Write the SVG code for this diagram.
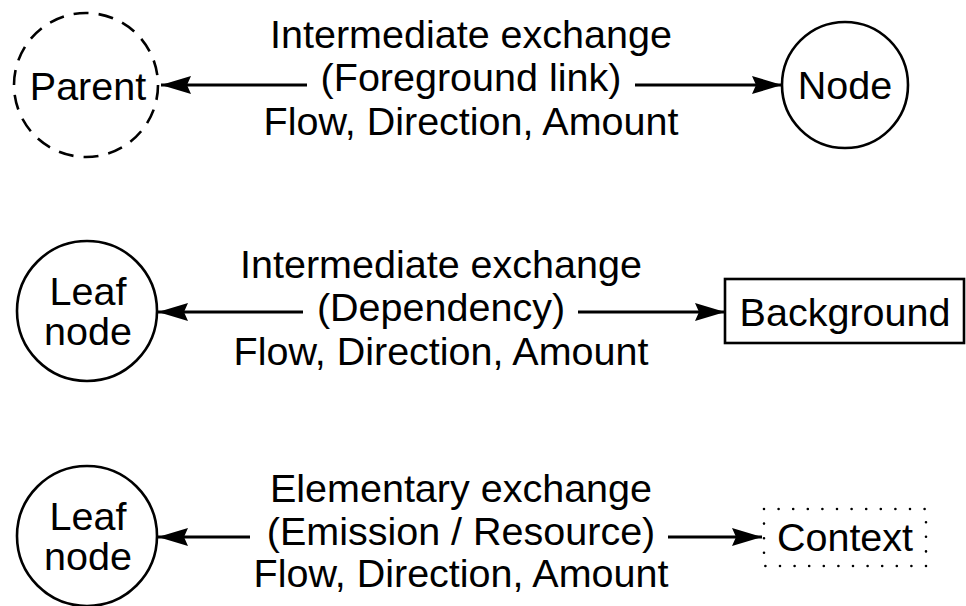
<svg xmlns="http://www.w3.org/2000/svg" width="966" height="606" viewBox="0 0 966 606">
<style>
text{font-family:"Liberation Sans",Arial,sans-serif;font-size:39.5px;fill:#000;text-anchor:middle}
.shape{fill:none;stroke:#000;stroke-width:2.6}
.conn{stroke:#000;stroke-width:3;fill:none}
</style>
<defs>
<marker id="ah" viewBox="0 0 30 18" refX="30" refY="9" markerWidth="30" markerHeight="18" markerUnits="userSpaceOnUse" orient="auto-start-reverse">
<path d="M0,0 L30,9 L0,18 L4,9 Z" fill="#000"/>
</marker>
</defs>
<rect width="966" height="606" fill="#fff"/>
<g id="parent">
<circle class="shape" cx="86" cy="85" r="72" stroke-dasharray="15 10.1"/>
<text x="88" y="100">Parent</text>
</g>
<g id="node">
<circle class="shape" cx="845" cy="85" r="63"/>
<text x="845" y="99">Node</text>
</g>
<g id="leaf1">
<circle class="shape" cx="87" cy="311" r="70"/>
<text x="88" y="305">Leaf</text>
<text x="88" y="345">node</text>
</g>
<g id="background">
<rect class="shape" x="725" y="279" width="239" height="64" stroke-width="3"/>
<text x="845" y="326">Background</text>
</g>
<g id="leaf2">
<circle class="shape" cx="87" cy="536" r="70"/>
<text x="88" y="530">Leaf</text>
<text x="88" y="570">node</text>
</g>
<g id="context">
<rect x="764" y="509" width="162" height="57" fill="none" stroke="#000" stroke-width="2.6" stroke-linecap="round" stroke-dasharray="0 14.6"/>
<text x="845" y="551">Context</text>
</g>
<g id="connectors">
<line class="conn" x1="307" y1="85" x2="161" y2="85" marker-end="url(#ah)"/>
<line class="conn" x1="635" y1="85" x2="782" y2="85" marker-end="url(#ah)"/>
<line class="conn" x1="303" y1="312" x2="158" y2="312" marker-end="url(#ah)"/>
<line class="conn" x1="578" y1="312" x2="725" y2="312" marker-end="url(#ah)"/>
<line class="conn" x1="250" y1="537" x2="158" y2="537" marker-end="url(#ah)"/>
<line class="conn" x1="668" y1="537" x2="762" y2="537" marker-end="url(#ah)"/>
</g>
<g id="labels">
<text x="471" y="48">Intermediate exchange</text>
<text x="471" y="91">(Foreground link)</text>
<text x="471" y="135">Flow, Direction, Amount</text>
<text x="441" y="278">Intermediate exchange</text>
<text x="441" y="321">(Dependency)</text>
<text x="441" y="365">Flow, Direction, Amount</text>
<text x="461" y="502">Elementary exchange</text>
<text x="461" y="545">(Emission / Resource)</text>
<text x="461" y="587">Flow, Direction, Amount</text>
</g>
</svg>
